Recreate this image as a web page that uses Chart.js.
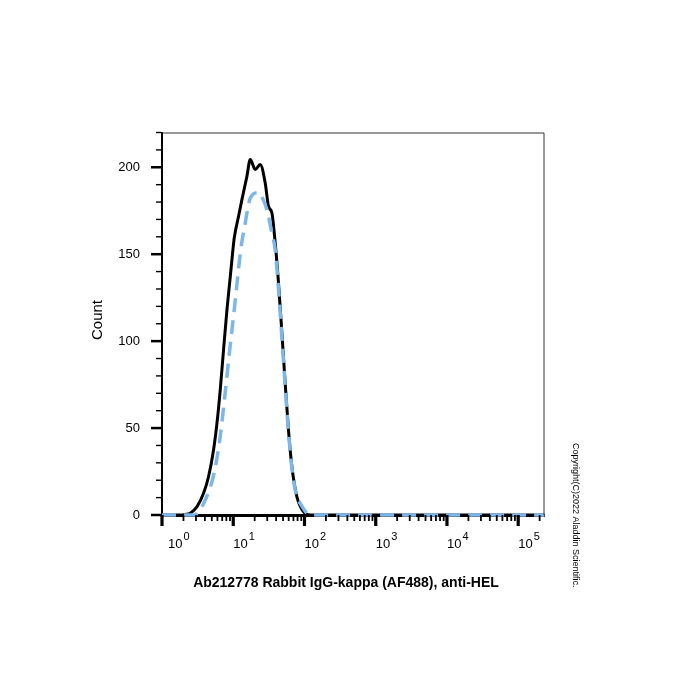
<!DOCTYPE html>
<html>
<head>
<meta charset="utf-8">
<script src="https://cdn.jsdelivr.net/npm/chart.js@4.4.1/dist/chart.umd.min.js"></script>
<style>
  html, body { margin: 0; padding: 0; background: #ffffff; }
  #wrap { width: 700px; height: 700px; }
</style>
</head>
<body>
<div id="wrap"><canvas id="c" width="700" height="700"></canvas></div>
<script>
// ---- data ----
const xExponents = [0, 1, 2, 3, 4, 5];
const yTickValues = [0, 50, 100, 150, 200];
const xTitle = 'Ab212778 Rabbit IgG-kappa (AF488), anti-HEL';
const yTitle = 'Count';
const copyright = 'Copyright(C)2022 Aladdin Scientific.';

// solid black histogram
const blackX = [1, 1.806, 2.12, 2.49, 3.10, 3.83, 4.50, 5.29, 5.91, 6.57, 7.31, 8.16, 9.08, 9.90, 10.33,
  11.87, 13.24, 15.56, 17.32, 20.35, 23.9, 28.1, 31.27, 34.9, 38.8, 43.2, 48.2, 53.6, 59.6,
  66.6, 78.2, 96.8, 120, 234000];
const blackY = [0, 0, 0.3, 1, 4.8, 12.5, 22, 37.4, 52.8, 72, 95, 118, 137, 152.6, 159.3,
  171.8, 181.4, 194.8, 204.4, 198.7, 201.6, 191, 177.5, 173.7, 156.5, 133.4, 104.6, 75.8, 49,
  27.8, 10.5, 1.9, 0, 0];

// dashed blue histogram
const blueX = [1, 2.9, 3.10, 4.05, 5.24, 6.36, 7.60, 8.93, 10.33, 11.56, 12.74, 14.74, 17.03, 18.48,
  20.35, 23.9, 25.9, 29.7, 34.9, 38.8, 43.2, 48.2, 53.6, 59.6, 66.6, 78.2, 87.0, 108, 120, 234000];
const blueY = [0, 0, 1, 8.6, 22, 41, 68, 95, 118, 137, 152.6, 168, 181.4, 184,
  185.2, 185.2, 182, 175.6, 162, 152.6, 129.6, 102, 74, 48, 27, 10, 6.7, 1, 0, 0];

const FONT = '"Liberation Sans", Arial, Helvetica, sans-serif';

const toPoints = (xs, ys) => xs.map((x, i) => ({ x: x, y: ys[i] }));

const decorations = {
  id: 'decorations',
  afterDraw(chart) {
    const ctx = chart.ctx;
    const xs = chart.scales.x, ys = chart.scales.y;
    const a = chart.chartArea;
    ctx.save();
    // top / right frame
    ctx.strokeStyle = '#333333';
    ctx.lineWidth = 1;
    ctx.beginPath();
    ctx.moveTo(a.left, a.top + 0.5);
    ctx.lineTo(a.right - 0.5, a.top + 0.5);
    ctx.lineTo(a.right - 0.5, a.bottom);
    ctx.stroke();

    // y ticks (outward, left)
    ctx.strokeStyle = '#000';
    for (let v = ys.min; v <= ys.max + 0.001; v += 10) {
      const py = ys.getPixelForValue(v);
      const major = yTickValues.includes(v);
      ctx.lineWidth = major ? 2.5 : 1.4;
      ctx.beginPath();
      ctx.moveTo(a.left - 1, py);
      ctx.lineTo(a.left - (major ? 11 : 6), py);
      ctx.stroke();
    }
    // x ticks (outward, below)
    const minE = Math.floor(Math.log10(xs.min));
    const maxE = Math.ceil(Math.log10(xs.max));
    for (let e = minE; e <= maxE; e++) {
      for (let k = 1; k <= 9; k++) {
        const v = k * Math.pow(10, e);
        if (v < xs.min * 0.999 || v > xs.max) continue;
        const px = xs.getPixelForValue(v);
        const major = k === 1;
        ctx.lineWidth = major ? 3.2 : 1.8;
        ctx.beginPath();
        ctx.moveTo(px, a.bottom);
        ctx.lineTo(px, a.bottom + (major ? 11 : 6));
        ctx.stroke();
      }
    }
    // x tick labels 10^n
    ctx.fillStyle = '#000';
    ctx.textAlign = 'left';
    ctx.textBaseline = 'alphabetic';
    xExponents.forEach(e => {
      const px = xs.getPixelForValue(Math.pow(10, e));
      const left = Math.max(px, a.left + 6);
      ctx.font = '13px ' + FONT;
      ctx.fillText('10', left, 548);
      const w = ctx.measureText('10').width;
      ctx.font = '11px ' + FONT;
      ctx.fillText(String(e), left + w + 1, 539.5);
    });
    // x title
    ctx.font = 'bold 14px ' + FONT;
    ctx.textAlign = 'center';
    ctx.fillText(xTitle, 346, 587);
    // y title
    ctx.save();
    ctx.translate(102, 320);
    ctx.rotate(-Math.PI / 2);
    ctx.font = '15px ' + FONT;
    ctx.textAlign = 'center';
    ctx.fillText(yTitle, 0, 0);
    ctx.restore();
    // copyright
    ctx.save();
    ctx.translate(573, 443);
    ctx.rotate(Math.PI / 2);
    ctx.font = '9px ' + FONT;
    ctx.textAlign = 'left';
    ctx.fillText(copyright, 0, 0);
    ctx.restore();
    ctx.restore();
  }
};

new Chart(document.getElementById('c'), {
  type: 'line',
  data: {
    datasets: [
      {
        label: 'blue',
        data: toPoints(blueX, blueY),
        borderColor: '#7db7ea',
        borderWidth: 3.5,
        borderDash: [14, 8],
        pointRadius: 0,
        fill: false,
        cubicInterpolationMode: 'monotone',
        clip: 8
      },
      {
        label: 'black',
        data: toPoints(blackX, blackY),
        borderColor: '#000000',
        borderWidth: 3,
        pointRadius: 0,
        fill: false,
        cubicInterpolationMode: 'monotone',
        clip: 8
      }
    ]
  },
  options: {
    responsive: false,
    animation: false,
    events: [],
    layout: { padding: { left: 0, right: 155.5, top: 132.5, bottom: 0 } },
    plugins: { legend: { display: false }, tooltip: { enabled: false } },
    scales: {
      x: {
        type: 'logarithmic',
        min: 1,
        max: 234000,
        position: 'bottom',
        grid: { display: false, drawTicks: false },
        border: { display: true, color: '#000', width: 3 },
        ticks: { display: false },
        afterFit(s) { s.height = 185; }
      },
      y: {
        type: 'linear',
        min: 0,
        max: 220,
        grid: { display: false, drawTicks: false },
        border: { display: true, color: '#000', width: 2 },
        ticks: { color: '#000', font: { size: 13, family: FONT }, padding: 22 },
        afterBuildTicks(s) { s.ticks = yTickValues.map(v => ({ value: v })); },
        afterFit(s) { s.width = 162; }
      }
    }
  },
  plugins: [decorations]
});
</script>
</body>
</html>
